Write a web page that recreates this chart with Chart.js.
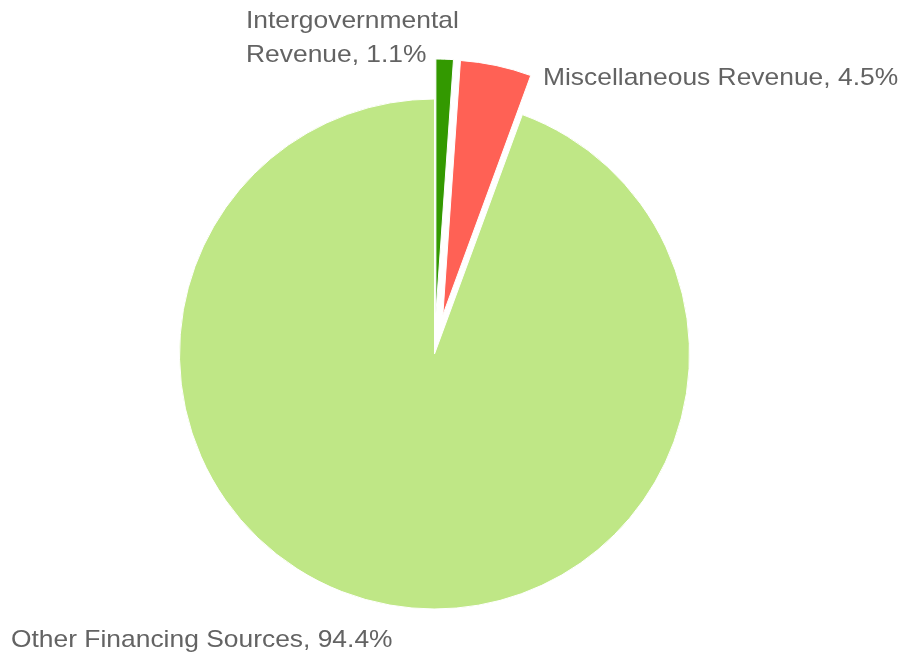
<!DOCTYPE html>
<html>
<head>
<meta charset="utf-8">
<script src="https://cdn.jsdelivr.net/npm/chart.js@4/dist/chart.umd.min.js"></script>
<style>
  html, body { margin: 0; padding: 0; background: #ffffff; }
  #wrap { width: 905px; height: 654px; position: relative; }
</style>
</head>
<body>
<div id="wrap"><canvas id="revenuePie" width="905" height="654"></canvas></div>
<script>
// Revenue sources, share of total (%)
const categories = ['Intergovernmental Revenue', 'Miscellaneous Revenue', 'Other Financing Sources'];
const shares = [1.1, 4.5, 94.4];
const sliceColors = ['#339900', '#ff6155', '#bfe786'];
// how far each slice is pulled out from the centre (px)
const explode = [40, 40, 0];

// Label placement for each slice: left x, first baseline, wrap width
const labelLayout = [
  { x: 246, y: 28, maxWidth: 200 },
  { x: 543, y: 85, maxWidth: 400 },
  { x: 11, y: 647, maxWidth: 500 }
];

// Draws the arcs pulled out along their mid angle, keeping their radius
const explodedSlices = {
  id: 'explodedSlices',
  beforeDatasetDraw(chart, args) {
    const meta = args.meta;
    const ds = chart.data.datasets[args.index];
    const ctx = chart.ctx;
    meta.data.forEach((arc, i) => {
      const d = (ds.explode && ds.explode[i]) || 0;
      const mid = (arc.startAngle + arc.endAngle) / 2;
      ctx.save();
      ctx.translate(Math.cos(mid) * d, Math.sin(mid) * d);
      arc.draw(ctx);
      ctx.restore();
    });
    return false;
  }
};

// Category labels with their percentage
const sliceLabels = {
  id: 'sliceLabels',
  afterDraw(chart) {
    const ctx = chart.ctx;
    const stretch = 1.1;
    ctx.save();
    ctx.font = '24px "Liberation Sans", Arial, sans-serif';
    ctx.fillStyle = '#636363';
    ctx.textBaseline = 'alphabetic';
    ctx.textAlign = 'left';
    categories.forEach((cat, i) => {
      const text = cat + ', ' + shares[i].toFixed(1) + '%';
      const lay = labelLayout[i];
      const words = text.split(' ');
      const lines = [];
      let line = '';
      words.forEach(w => {
        const test = line ? line + ' ' + w : w;
        if (line && ctx.measureText(test).width * stretch > lay.maxWidth) {
          lines.push(line);
          line = w;
        } else {
          line = test;
        }
      });
      lines.push(line);
      lines.forEach((ln, k) => {
        ctx.save();
        ctx.translate(lay.x, lay.y + k * 33.5);
        ctx.scale(stretch, 1);
        ctx.fillText(ln, 0, 0);
        ctx.restore();
      });
    });
    ctx.restore();
  }
};

new Chart(document.getElementById('revenuePie'), {
  type: 'pie',
  data: {
    labels: categories,
    datasets: [{
      data: shares,
      backgroundColor: sliceColors,
      borderColor: '#ffffff',
      borderWidth: 1,
      explode: explode
    }]
  },
  options: {
    responsive: false,
    animation: false,
    radius: 255,
    layout: { padding: { left: 0, right: 36, top: 54, bottom: 0 } },
    plugins: {
      legend: { display: false },
      tooltip: { enabled: false }
    }
  },
  plugins: [explodedSlices, sliceLabels]
});
</script>
</body>
</html>
